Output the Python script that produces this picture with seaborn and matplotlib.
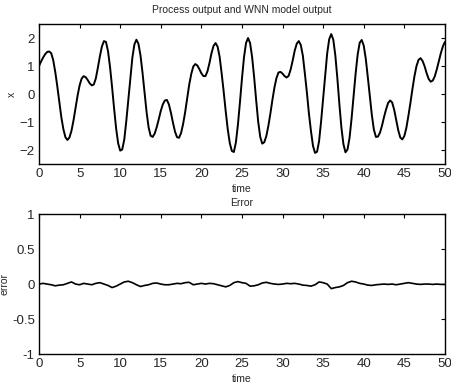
import numpy as np
import pandas as pd
import matplotlib
matplotlib.use("Agg")
import matplotlib.pyplot as plt
import seaborn as sns

# top panel: process / model output, one reading every 0.25
time_x = np.arange(0, 50.25, 0.25)
output_x = [
    1.00, 1.16, 1.30, 1.42, 1.50, 1.52, 1.46, 1.21, 0.79, 0.28,
    -0.28, -0.83, -1.25, -1.54, -1.64, -1.55, -1.31, -0.94, -0.50, -0.06,
    0.31, 0.55, 0.64, 0.60, 0.50, 0.38, 0.31, 0.34, 0.56, 0.94,
    1.35, 1.70, 1.89, 1.86, 1.53, 0.96, 0.25, -0.52, -1.23, -1.76,
    -2.02, -1.98, -1.63, -0.97, -0.21, 0.59, 1.30, 1.77, 1.94, 1.79,
    1.38, 0.76, 0.06, -0.64, -1.19, -1.49, -1.53, -1.41, -1.18, -0.90,
    -0.60, -0.37, -0.23, -0.21, -0.37, -0.67, -1.02, -1.34, -1.54, -1.56,
    -1.39, -1.07, -0.65, -0.15, 0.33, 0.71, 0.98, 1.07, 1.02, 0.89,
    0.74, 0.64, 0.64, 0.81, 1.11, 1.46, 1.72, 1.82, 1.69, 1.33,
    0.73, 0.08, -0.62, -1.26, -1.75, -2.03, -2.07, -1.73, -1.10, -0.30,
    0.55, 1.31, 1.82, 2.00, 1.82, 1.32, 0.60, -0.22, -0.99, -1.53,
    -1.77, -1.72, -1.50, -1.14, -0.70, -0.21, 0.23, 0.57, 0.77, 0.79,
    0.73, 0.64, 0.59, 0.65, 0.88, 1.20, 1.55, 1.80, 1.89, 1.75,
    1.37, 0.73, 0.05, -0.70, -1.32, -1.85, -2.10, -2.06, -1.68, -0.97,
    -0.16, 0.69, 1.46, 1.96, 2.14, 1.94, 1.38, 0.57, -0.36, -1.20,
    -1.79, -2.08, -1.98, -1.57, -0.88, -0.07, 0.73, 1.40, 1.83, 1.93,
    1.73, 1.26, 0.61, -0.08, -0.75, -1.27, -1.53, -1.52, -1.38, -1.13,
    -0.82, -0.55, -0.32, -0.23, -0.30, -0.56, -0.93, -1.29, -1.55, -1.62,
    -1.50, -1.21, -0.78, -0.32, 0.18, 0.64, 1.00, 1.22, 1.28, 1.18,
    0.99, 0.74, 0.54, 0.44, 0.48, 0.63, 0.88, 1.17, 1.46, 1.70,
    1.86,
]

# bottom panel: model error, one reading every 0.5
time_e = np.arange(0, 50.5, 0.5)
error = [
    0.00, 0.01, 0.00, -0.01, -0.025, -0.015, -0.01, 0.01, 0.03, 0.00,
    -0.01, 0.01, 0.00, -0.01, 0.01, 0.02, 0.00, -0.02, -0.05, -0.03,
    0.00, 0.03, 0.04, 0.02, -0.01, -0.035, -0.02, -0.01, 0.01, 0.015,
    0.00, -0.01, -0.01, 0.00, 0.01, 0.005, 0.02, 0.025, -0.01, 0.00,
    0.01, 0.00, 0.01, 0.005, -0.01, -0.025, -0.04, -0.02, 0.02, 0.035,
    0.02, 0.01, -0.03, -0.025, -0.01, 0.015, 0.025, 0.01, 0.00, -0.005,
    0.00, 0.01, 0.005, 0.01, 0.00, -0.015, -0.02, -0.03, -0.01, 0.03,
    0.02, 0.00, -0.065, -0.05, -0.04, -0.02, 0.02, 0.04, 0.03, 0.01,
    0.00, -0.015, -0.02, -0.01, -0.005, 0.00, -0.005, 0.00, -0.01, 0.00,
    0.01, 0.02, 0.01, 0.00, -0.005, 0.00, 0.00, -0.005, 0.00, -0.005,
    -0.005,
]

df_x = pd.DataFrame({"time": time_x, "x": output_x})
df_e = pd.DataFrame({"time": time_e, "error": error})

sns.set_style("white")
plt.rcParams["font.family"] = ["Liberation Sans", "DejaVu Sans"]

fig = plt.figure(figsize=(4.51, 3.87), dpi=100)
ax1 = fig.add_axes([0.0865, 0.576, 0.900, 0.362])
ax2 = fig.add_axes([0.0865, 0.085, 0.900, 0.362])

sns.lineplot(data=df_x, x="time", y="x", ax=ax1, color="black", linewidth=1.4)
sns.lineplot(data=df_e, x="time", y="error", ax=ax2, color="black", linewidth=1.2)

ax1.set_ylim(-2.5, 2.5)
ax1.set_yticks([-2, -1, 0, 1, 2])
ax1.set_title("Process output and WNN model output", fontsize=7.5, pad=8)

ax2.set_ylim(-1, 1)
ax2.set_yticks([-1, -0.5, 0, 0.5, 1])
ax2.set_yticklabels(["-1", "-0.5", "0", "0.5", "1"])
ax2.set_title("Error", fontsize=7.5, pad=6)

for ax in (ax1, ax2):
    ax.set_xlim(0, 50)
    ax.set_xticks(range(0, 51, 5))
    ax.set_xlabel("time", fontsize=7.5, labelpad=3)
    ax.yaxis.label.set_size(7.5)
    ax.yaxis.labelpad = 2
    ax.tick_params(direction="in", top=True, right=True, length=3,
                   labelsize=9.5, pad=3, color="black")
    for lbl in ax.get_xticklabels() + ax.get_yticklabels():
        lbl.set_family(["Liberation Sans Narrow", "Liberation Sans"])
    for s in ax.spines.values():
        s.set_color("black")
        s.set_linewidth(1.0)

fig.savefig("out.png", dpi=100)
